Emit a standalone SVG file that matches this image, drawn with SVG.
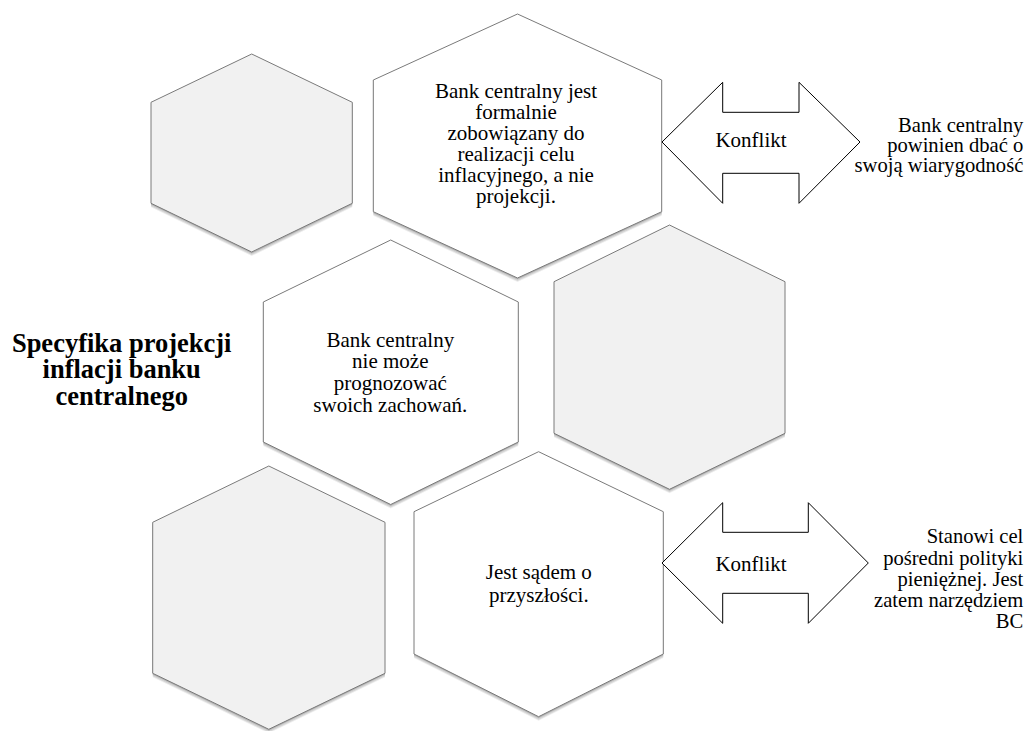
<svg xmlns="http://www.w3.org/2000/svg" xmlns:xlink="http://www.w3.org/1999/xlink" width="1029" height="731" viewBox="0 0 1029 731">
  <defs>
    <!-- hexagon outlines, reused for the drop shadow layers and the face -->
    <polygon id="hx-a" points="251.7,54 352.3,102.3 352.3,203.3 251.7,252 151,203.3 151,102.3"/>
    <polygon id="hx-b" points="517.5,14 661.7,80 661.7,211.7 517.5,278 373.3,211.7 373.3,80"/>
    <polygon id="hx-c" points="390.7,240 518.3,302 518.3,442 390.7,504.5 263.3,442 263.3,302"/>
    <polygon id="hx-d" points="669.5,225 785,281.7 785,433.3 669.5,489.3 554,433.3 554,281.7"/>
    <polygon id="hx-e" points="268.8,466 385,522.3 385,673.3 268.8,729.3 152.7,673.3 152.7,522.3"/>
    <polygon id="hx-f" points="538.6,451.7 663.3,511.7 663.3,654 538.6,716.7 414,654 414,511.7"/>
  </defs>

  <rect width="1029" height="731" fill="#ffffff"/>

  <!-- title -->
  <g id="title">
    <text x="121.7" y="351.7" font-size="26.5" font-weight="bold" text-anchor="middle" font-family="'Liberation Serif', serif">Specyfika projekcji</text>
    <text x="121.7" y="378.4" font-size="26.5" font-weight="bold" text-anchor="middle" font-family="'Liberation Serif', serif">inflacji banku</text>
    <text x="121.7" y="405.1" font-size="26.5" font-weight="bold" text-anchor="middle" font-family="'Liberation Serif', serif">centralnego</text>
  </g>

  <!-- empty grey hexagon, top left -->
  <g id="hex-top-left">
    <use xlink:href="#hx-a" transform="translate(0,4)" fill="#000" fill-opacity="0.07"/>
    <use xlink:href="#hx-a" transform="translate(0,3)" fill="#000" fill-opacity="0.1"/>
    <use xlink:href="#hx-a" transform="translate(0,1.5)" fill="#000" fill-opacity="0.15"/>
    <use xlink:href="#hx-a" fill="#f1f1f1" stroke="#7a7a7a" stroke-width="1"/>
  </g>

  <!-- hexagon: formal obligation -->
  <g id="hex-obligation">
    <use xlink:href="#hx-b" transform="translate(0,4)" fill="#000" fill-opacity="0.07"/>
    <use xlink:href="#hx-b" transform="translate(0,3)" fill="#000" fill-opacity="0.1"/>
    <use xlink:href="#hx-b" transform="translate(0,1.5)" fill="#000" fill-opacity="0.15"/>
    <use xlink:href="#hx-b" fill="#ffffff" stroke="#7a7a7a" stroke-width="1"/>
    <text x="516" y="98" font-size="21" text-anchor="middle" font-family="'Liberation Serif', serif">Bank centralny jest</text>
    <text x="516" y="118.9" font-size="21" text-anchor="middle" font-family="'Liberation Serif', serif">formalnie</text>
    <text x="516" y="139.8" font-size="21" text-anchor="middle" font-family="'Liberation Serif', serif">zobowiązany do</text>
    <text x="516" y="160.7" font-size="21" text-anchor="middle" font-family="'Liberation Serif', serif">realizacji celu</text>
    <text x="516" y="181.6" font-size="21" text-anchor="middle" font-family="'Liberation Serif', serif">inflacyjnego, a nie</text>
    <text x="516" y="202.5" font-size="21" text-anchor="middle" font-family="'Liberation Serif', serif">projekcji.</text>
  </g>

  <!-- hexagon: cannot forecast own behaviour -->
  <g id="hex-forecast">
    <use xlink:href="#hx-c" transform="translate(0,4)" fill="#000" fill-opacity="0.07"/>
    <use xlink:href="#hx-c" transform="translate(0,3)" fill="#000" fill-opacity="0.1"/>
    <use xlink:href="#hx-c" transform="translate(0,1.5)" fill="#000" fill-opacity="0.15"/>
    <use xlink:href="#hx-c" fill="#ffffff" stroke="#7a7a7a" stroke-width="1"/>
    <text x="390.3" y="346.7" font-size="21" text-anchor="middle" font-family="'Liberation Serif', serif">Bank centralny</text>
    <text x="390.3" y="368.4" font-size="21" text-anchor="middle" font-family="'Liberation Serif', serif">nie może</text>
    <text x="390.3" y="390.1" font-size="21" text-anchor="middle" font-family="'Liberation Serif', serif">prognozować</text>
    <text x="390.3" y="411.8" font-size="21" text-anchor="middle" font-family="'Liberation Serif', serif">swoich zachowań.</text>
  </g>

  <!-- empty grey hexagon, middle right -->
  <g id="hex-mid-right">
    <use xlink:href="#hx-d" transform="translate(0,4)" fill="#000" fill-opacity="0.07"/>
    <use xlink:href="#hx-d" transform="translate(0,3)" fill="#000" fill-opacity="0.1"/>
    <use xlink:href="#hx-d" transform="translate(0,1.5)" fill="#000" fill-opacity="0.15"/>
    <use xlink:href="#hx-d" fill="#f1f1f1" stroke="#7a7a7a" stroke-width="1"/>
  </g>

  <!-- empty grey hexagon, bottom left -->
  <g id="hex-bottom-left">
    <use xlink:href="#hx-e" transform="translate(0,4)" fill="#000" fill-opacity="0.07"/>
    <use xlink:href="#hx-e" transform="translate(0,3)" fill="#000" fill-opacity="0.1"/>
    <use xlink:href="#hx-e" transform="translate(0,1.5)" fill="#000" fill-opacity="0.15"/>
    <use xlink:href="#hx-e" fill="#f1f1f1" stroke="#7a7a7a" stroke-width="1"/>
  </g>

  <!-- hexagon: judgement about the future -->
  <g id="hex-future">
    <use xlink:href="#hx-f" transform="translate(0,4)" fill="#000" fill-opacity="0.07"/>
    <use xlink:href="#hx-f" transform="translate(0,3)" fill="#000" fill-opacity="0.1"/>
    <use xlink:href="#hx-f" transform="translate(0,1.5)" fill="#000" fill-opacity="0.15"/>
    <use xlink:href="#hx-f" fill="#ffffff" stroke="#7a7a7a" stroke-width="1"/>
    <text x="538.8" y="579.3" font-size="21" text-anchor="middle" font-family="'Liberation Serif', serif">Jest sądem o</text>
    <text x="538.8" y="601.7" font-size="21" text-anchor="middle" font-family="'Liberation Serif', serif">przyszłości.</text>
  </g>

  <!-- conflict arrows -->
  <g id="connectors">
    <g id="conflict-top">
      <path d="M662,142 L722.7,82.3 L722.7,112.3 L799,112.3 L799,82.3 L860,142 L799,203.3 L799,173.3 L722.7,173.3 L722.7,203.3 Z" fill="#ffffff" stroke="#000000" stroke-width="1"/>
      <text x="751" y="146.5" font-size="21" text-anchor="middle" font-family="'Liberation Serif', serif">Konflikt</text>
    </g>
    <g id="conflict-bottom">
      <path d="M662,563 L722.7,502.7 L722.7,532.3 L808.3,532.3 L808.3,502.7 L868.3,563 L808.3,623.3 L808.3,593.3 L722.7,593.3 L722.7,623.3 Z" fill="#ffffff" stroke="#000000" stroke-width="1"/>
      <text x="751" y="570.5" font-size="21" text-anchor="middle" font-family="'Liberation Serif', serif">Konflikt</text>
    </g>
  </g>

  <!-- counterpart statements -->
  <g id="note-credibility">
    <text x="1023.3" y="131.7" font-size="20.6" text-anchor="end" font-family="'Liberation Serif', serif">Bank centralny</text>
    <text x="1023.3" y="151.7" font-size="20.6" text-anchor="end" font-family="'Liberation Serif', serif">powinien dbać o</text>
    <text x="1023.3" y="171.7" font-size="20.6" text-anchor="end" font-family="'Liberation Serif', serif">swoją wiarygodność</text>
  </g>
  <g id="note-instrument">
    <text x="1023.3" y="543.3" font-size="20.6" text-anchor="end" font-family="'Liberation Serif', serif">Stanowi cel</text>
    <text x="1023.3" y="564.6" font-size="20.6" text-anchor="end" font-family="'Liberation Serif', serif">pośredni polityki</text>
    <text x="1023.3" y="585.8" font-size="20.6" text-anchor="end" font-family="'Liberation Serif', serif">pieniężnej. Jest</text>
    <text x="1023.3" y="607" font-size="20.6" text-anchor="end" font-family="'Liberation Serif', serif">zatem narzędziem</text>
    <text x="1023.3" y="628.3" font-size="20.6" text-anchor="end" font-family="'Liberation Serif', serif">BC</text>
  </g>
</svg>
